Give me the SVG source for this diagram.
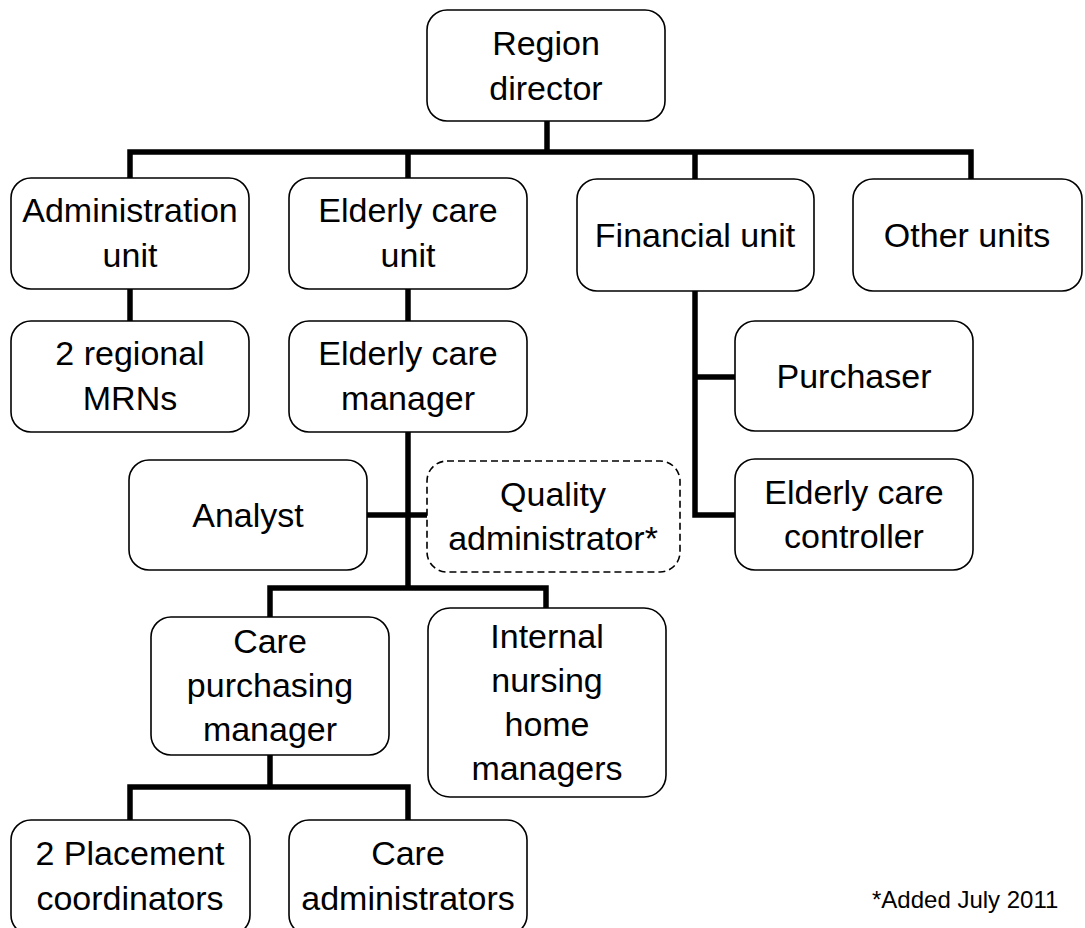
<svg xmlns="http://www.w3.org/2000/svg" width="1085" height="928" viewBox="0 0 1085 928">
  <style>
    .box { fill: #ffffff; stroke: #000000; stroke-width: 1.6; }
    .dash { fill: #ffffff; stroke: #000000; stroke-width: 1.6; stroke-dasharray: 7 4; }
    .conn { fill: none; stroke: #000000; stroke-width: 5.5; stroke-linejoin: miter; stroke-linecap: butt; }
    text { font-family: "Liberation Sans", Arial, sans-serif; font-size: 34px; fill: #000000; text-anchor: middle; }
    .note { font-size: 24px; text-anchor: start; }
  </style>
  <rect x="0" y="0" width="1085" height="928" fill="#ffffff"/>
  <g id="connectors">
    <line class="conn" x1="547" y1="121" x2="547" y2="152"/>
    <polyline class="conn" points="130,178 130,152 971,152 971,179"/>
    <line class="conn" x1="408" y1="152" x2="408" y2="178"/>
    <line class="conn" x1="695" y1="152" x2="695" y2="179"/>
    <line class="conn" x1="130" y1="289" x2="130" y2="321"/>
    <line class="conn" x1="408" y1="289" x2="408" y2="321"/>
    <polyline class="conn" points="695,291 695,515 735,515"/>
    <line class="conn" x1="695" y1="377" x2="735" y2="377"/>
    <line class="conn" x1="408" y1="432" x2="408" y2="588"/>
    <line class="conn" x1="367" y1="515" x2="427" y2="515"/>
    <polyline class="conn" points="270,617 270,588 546,588 546,608"/>
    <line class="conn" x1="270" y1="755" x2="270" y2="787"/>
    <polyline class="conn" points="130,820 130,787 408,787 408,820"/>
  </g>
  <g id="region-director">
    <rect class="box" x="427" y="10" width="238" height="111" rx="20"/>
    <text x="546" y="55">Region</text>
    <text x="546" y="100">director</text>
  </g>
  <g id="administration-unit">
    <rect class="box" x="11" y="178" width="238" height="111" rx="20"/>
    <text x="130" y="222">Administration</text>
    <text x="130" y="267">unit</text>
  </g>
  <g id="elderly-care-unit">
    <rect class="box" x="289" y="178" width="238" height="111" rx="20"/>
    <text x="408" y="222">Elderly care</text>
    <text x="408" y="267">unit</text>
  </g>
  <g id="financial-unit">
    <rect class="box" x="577" y="179" width="237" height="112" rx="20"/>
    <text x="695" y="247">Financial unit</text>
  </g>
  <g id="other-units">
    <rect class="box" x="853" y="179" width="229" height="112" rx="20"/>
    <text x="967" y="247">Other units</text>
  </g>
  <g id="regional-mrns">
    <rect class="box" x="11" y="321" width="238" height="111" rx="20"/>
    <text x="130" y="365">2 regional</text>
    <text x="130" y="410">MRNs</text>
  </g>
  <g id="elderly-care-manager">
    <rect class="box" x="289" y="321" width="238" height="111" rx="20"/>
    <text x="408" y="365">Elderly care</text>
    <text x="408" y="410">manager</text>
  </g>
  <g id="purchaser">
    <rect class="box" x="735" y="321" width="238" height="110" rx="20"/>
    <text x="854" y="388">Purchaser</text>
  </g>
  <g id="elderly-care-controller">
    <rect class="box" x="735" y="459" width="238" height="111" rx="20"/>
    <text x="854" y="504">Elderly care</text>
    <text x="854" y="548">controller</text>
  </g>
  <g id="analyst">
    <rect class="box" x="129" y="460" width="238" height="110" rx="20"/>
    <text x="248" y="527">Analyst</text>
  </g>
  <g id="quality-administrator">
    <rect class="dash" x="427" y="461" width="253" height="111" rx="20"/>
    <text x="553" y="506">Quality</text>
    <text x="553" y="550">administrator*</text>
  </g>
  <g id="care-purchasing-manager">
    <rect class="box" x="151" y="617" width="238" height="138" rx="20"/>
    <text x="270" y="653">Care</text>
    <text x="270" y="697">purchasing</text>
    <text x="270" y="741">manager</text>
  </g>
  <g id="internal-nursing-home-managers">
    <rect class="box" x="428" y="608" width="238" height="189" rx="22"/>
    <text x="547" y="648">Internal</text>
    <text x="547" y="692">nursing</text>
    <text x="547" y="736">home</text>
    <text x="547" y="780">managers</text>
  </g>
  <g id="placement-coordinators">
    <rect class="box" x="11" y="820" width="239" height="115" rx="20"/>
    <text x="130" y="865">2 Placement</text>
    <text x="130" y="910">coordinators</text>
  </g>
  <g id="care-administrators">
    <rect class="box" x="289" y="820" width="238" height="115" rx="20"/>
    <text x="408" y="865">Care</text>
    <text x="408" y="910">administrators</text>
  </g>
  <g id="footnote">
    <text class="note" x="872" y="908">*Added July 2011</text>
  </g>
</svg>
